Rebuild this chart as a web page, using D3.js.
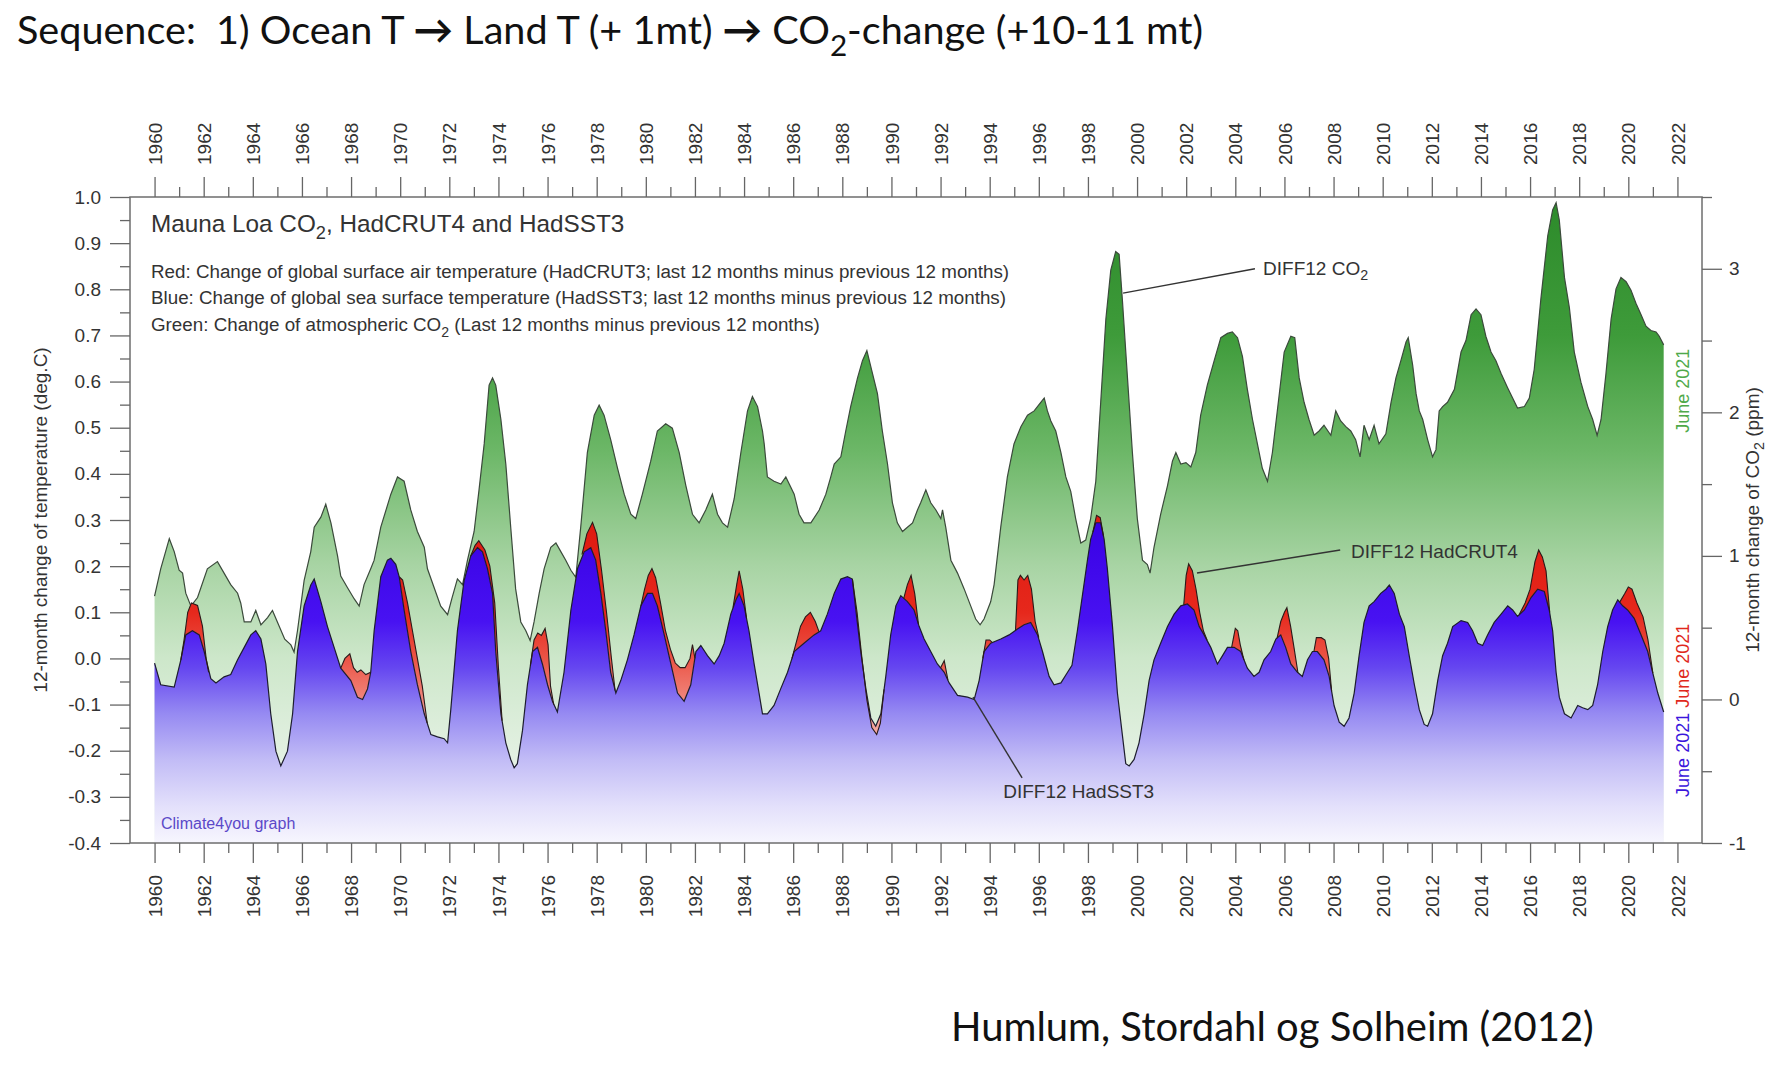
<!DOCTYPE html>
<html>
<head>
<meta charset="utf-8">
<script src="https://cdn.jsdelivr.net/npm/d3@7"></script>
<style>
  html, body { margin: 0; padding: 0; background: #fff; }
  svg { display: block; }
</style>
</head>
<body>
<div id="chart"></div>
<script>
// ---------- data ----------
const yearTicks = [1960, 1962, 1964, 1966, 1968, 1970, 1972, 1974, 1976, 1978, 1980, 1982, 1984, 1986, 1988, 1990,
  1992, 1994, 1996, 1998, 2000, 2002, 2004, 2006, 2008, 2010, 2012, 2014, 2016, 2018, 2020, 2022];
const yearMinorTicks = [1961, 1963, 1965, 1967, 1969, 1971, 1973, 1975, 1977, 1979, 1981, 1983, 1985, 1987, 1989, 1991,
  1993, 1995, 1997, 1999, 2001, 2003, 2005, 2007, 2009, 2011, 2013, 2015, 2017, 2019, 2021];
const tempTicks = [-0.4, -0.3, -0.2, -0.1, 0.0, 0.1, 0.2, 0.3, 0.4, 0.5, 0.6, 0.7, 0.8, 0.9, 1.0];
const tempMinorTicks = [-0.35, -0.25, -0.15, -0.05, 0.05, 0.15, 0.25, 0.35, 0.45, 0.55, 0.65, 0.75, 0.85, 0.95];
const co2Ticks = [-1, 0, 1, 2, 3];
const co2MinorTicks = [-0.5, 0.5, 1.5, 2.5, 3.5];

// DIFF12 CO2, Mauna Loa (ppm) : [year, value]
const co2Diff = [
  [1960.0,0.72],[1960.25,0.91],[1960.6,1.12],[1960.8,1.03],[1961.0,0.90],[1961.14,0.88],[1961.27,0.74],[1961.48,0.65],
  [1961.75,0.71],[1962.15,0.91],[1962.56,0.96],[1962.83,0.88],[1963.1,0.80],[1963.38,0.74],[1963.51,0.67],[1963.65,0.54],
  [1963.92,0.54],[1964.12,0.62],[1964.33,0.52],[1964.6,0.57],[1964.8,0.62],[1965.0,0.54],[1965.3,0.42],[1965.55,0.38],
  [1965.68,0.33],[1965.82,0.48],[1966.09,0.83],[1966.36,1.03],[1966.5,1.20],[1966.77,1.27],[1966.97,1.36],[1967.18,1.23],
  [1967.45,1.00],[1967.58,0.86],[1967.85,0.78],[1968.13,0.70],[1968.33,0.65],[1968.53,0.80],[1968.8,0.91],[1968.94,0.97],
  [1969.21,1.20],[1969.62,1.43],[1969.89,1.55],[1970.16,1.52],[1970.43,1.32],[1970.7,1.17],[1970.98,1.06],[1971.11,0.91],
  [1971.38,0.78],[1971.65,0.65],[1971.93,0.59],[1972.1,0.70],[1972.33,0.84],[1972.54,0.80],[1972.74,0.97],[1973.01,1.17],
  [1973.21,1.46],[1973.42,1.78],[1973.62,2.19],[1973.76,2.24],[1973.89,2.19],[1974.1,1.95],[1974.3,1.64],[1974.5,1.20],
  [1974.7,0.77],[1974.91,0.54],[1975.11,0.48],[1975.29,0.41],[1975.45,0.54],[1975.66,0.74],[1975.86,0.91],[1976.13,1.06],
  [1976.34,1.09],[1976.54,1.03],[1976.74,0.97],[1976.95,0.90],[1977.15,0.85],[1977.35,1.20],[1977.62,1.72],[1977.9,1.98],
  [1978.1,2.05],[1978.3,1.98],[1978.57,1.81],[1978.85,1.61],[1979.12,1.43],[1979.39,1.29],[1979.59,1.26],[1979.86,1.43],
  [1980.2,1.66],[1980.47,1.87],[1980.81,1.92],[1981.08,1.89],[1981.36,1.72],[1981.63,1.49],[1981.9,1.29],[1982.17,1.23],
  [1982.44,1.32],[1982.71,1.43],[1982.92,1.29],[1983.12,1.23],[1983.33,1.20],[1983.6,1.40],[1983.87,1.72],[1984.14,2.01],
  [1984.34,2.11],[1984.55,2.04],[1984.75,1.87],[1984.82,1.78],[1984.95,1.55],[1985.22,1.52],[1985.5,1.50],[1985.7,1.55],
  [1986.04,1.43],[1986.24,1.29],[1986.44,1.23],[1986.72,1.23],[1987.06,1.32],[1987.33,1.43],[1987.53,1.55],[1987.67,1.64],
  [1987.94,1.69],[1988.14,1.87],[1988.34,2.04],[1988.62,2.24],[1988.82,2.36],[1989.0,2.43],[1989.23,2.27],[1989.43,2.13],
  [1989.63,1.87],[1989.84,1.64],[1990.04,1.37],[1990.24,1.23],[1990.45,1.17],[1990.65,1.20],[1990.86,1.23],[1991.06,1.32],
  [1991.19,1.37],[1991.4,1.46],[1991.6,1.37],[1991.81,1.32],[1992.01,1.26],[1992.08,1.32],[1992.21,1.20],[1992.42,0.97],
  [1992.69,0.88],[1992.96,0.77],[1993.23,0.65],[1993.43,0.56],[1993.61,0.52],[1993.77,0.56],[1994.04,0.68],[1994.18,0.80],
  [1994.45,1.20],[1994.72,1.55],[1994.99,1.78],[1995.27,1.90],[1995.54,1.98],[1995.81,2.01],[1996.08,2.07],[1996.22,2.10],
  [1996.35,2.01],[1996.49,1.94],[1996.69,1.87],[1996.9,1.72],[1997.1,1.55],[1997.3,1.45],[1997.5,1.26],[1997.71,1.09],
  [1997.91,1.11],[1998.11,1.26],[1998.32,1.52],[1998.52,2.07],[1998.73,2.65],[1998.93,2.99],[1999.13,3.12],[1999.27,3.10],
  [1999.4,2.79],[1999.61,2.24],[1999.81,1.72],[2000.01,1.26],[2000.22,0.97],[2000.42,0.94],[2000.53,0.88],[2000.69,1.06],
  [2000.96,1.29],[2001.24,1.49],[2001.44,1.66],[2001.58,1.72],[2001.78,1.64],[2001.99,1.65],[2002.19,1.62],[2002.39,1.72],
  [2002.59,1.98],[2002.86,2.19],[2003.14,2.36],[2003.41,2.52],[2003.68,2.55],[2003.88,2.56],[2004.09,2.52],[2004.29,2.39],
  [2004.49,2.16],[2004.7,1.95],[2004.9,1.78],[2005.1,1.61],[2005.31,1.52],[2005.51,1.72],[2005.71,2.01],[2005.99,2.42],
  [2006.26,2.53],[2006.42,2.52],[2006.6,2.24],[2006.8,2.07],[2007.0,1.95],[2007.21,1.84],[2007.41,1.87],[2007.61,1.91],
  [2007.89,1.84],[2008.09,2.01],[2008.29,1.94],[2008.5,1.90],[2008.7,1.87],[2008.9,1.81],[2009.08,1.69],[2009.24,1.91],
  [2009.45,1.81],[2009.65,1.91],[2009.85,1.78],[2010.13,1.85],[2010.34,2.07],[2010.54,2.24],[2010.74,2.36],[2010.95,2.49],
  [2011.04,2.52],[2011.22,2.33],[2011.36,2.13],[2011.49,2.01],[2011.63,1.95],[2011.83,1.81],[2012.03,1.69],[2012.17,1.74],
  [2012.3,2.01],[2012.44,2.04],[2012.64,2.07],[2012.92,2.16],[2013.19,2.42],[2013.39,2.50],[2013.6,2.68],[2013.8,2.72],
  [2014.0,2.68],[2014.2,2.53],[2014.41,2.42],[2014.61,2.36],[2014.82,2.27],[2015.09,2.17],[2015.29,2.10],[2015.49,2.03],
  [2015.77,2.04],[2015.97,2.10],[2016.17,2.30],[2016.44,2.79],[2016.72,3.23],[2016.92,3.41],[2017.06,3.46],[2017.19,3.34],
  [2017.4,2.94],[2017.6,2.73],[2017.8,2.42],[2018.07,2.21],[2018.35,2.04],[2018.55,1.95],[2018.73,1.84],[2018.89,1.95],
  [2019.09,2.27],[2019.3,2.65],[2019.5,2.86],[2019.7,2.94],[2019.91,2.91],[2020.11,2.85],[2020.31,2.76],[2020.52,2.68],
  [2020.72,2.60],[2020.92,2.57],[2021.13,2.56],[2021.26,2.53],[2021.44,2.47]
];

// DIFF12 HadSST3 (deg C) : [year, value]
const sstDiff = [
  [1960.0,-0.01],[1960.25,-0.057],[1960.8,-0.062],[1961.07,-0.003],[1961.27,0.051],[1961.54,0.06],[1961.82,0.051],
  [1962.02,0.015],[1962.29,-0.044],[1962.5,-0.053],[1962.83,-0.04],[1963.1,-0.035],[1963.38,-0.003],[1963.65,0.024],
  [1963.92,0.051],[1964.12,0.06],[1964.33,0.042],[1964.53,-0.012],[1964.73,-0.12],[1964.94,-0.201],[1965.14,-0.233],
  [1965.41,-0.201],[1965.62,-0.12],[1965.82,0.015],[1966.09,0.114],[1966.36,0.159],[1966.5,0.172],[1966.77,0.123],
  [1967.04,0.069],[1967.31,0.024],[1967.58,-0.021],[1967.99,-0.048],[1968.26,-0.084],[1968.47,-0.089],[1968.67,-0.066],
  [1968.8,-0.03],[1968.94,0.06],[1969.21,0.177],[1969.48,0.213],[1969.62,0.217],[1969.82,0.204],[1969.96,0.177],
  [1970.16,0.105],[1970.43,0.015],[1970.7,-0.057],[1970.98,-0.12],[1971.25,-0.165],[1971.52,-0.17],[1971.79,-0.174],
  [1971.93,-0.183],[1972.06,-0.111],[1972.33,0.06],[1972.6,0.168],[1972.87,0.222],[1973.15,0.24],[1973.35,0.231],
  [1973.55,0.195],[1973.76,0.141],[1973.89,0.015],[1974.1,-0.12],[1974.3,-0.183],[1974.5,-0.219],[1974.64,-0.237],
  [1974.77,-0.228],[1974.98,-0.156],[1975.18,-0.057],[1975.39,0.015],[1975.59,0.024],[1975.79,-0.012],[1976.0,-0.057],
  [1976.2,-0.093],[1976.4,-0.116],[1976.67,-0.03],[1976.95,0.105],[1977.22,0.195],[1977.49,0.231],[1977.76,0.24],
  [1977.96,0.213],[1978.17,0.141],[1978.37,0.06],[1978.57,-0.03],[1978.78,-0.075],[1978.98,-0.048],[1979.25,-0.003],
  [1979.52,0.051],[1979.8,0.114],[1980.07,0.141],[1980.27,0.141],[1980.47,0.114],[1980.75,0.051],[1981.02,-0.012],
  [1981.29,-0.075],[1981.56,-0.093],[1981.83,-0.057],[1982.04,0.015],[1982.24,0.028],[1982.51,0.006],[1982.78,-0.012],
  [1982.99,0.006],[1983.19,0.033],[1983.46,0.096],[1983.67,0.127],[1983.8,0.141],[1984.0,0.114],[1984.2,0.06],
  [1984.41,-0.012],[1984.61,-0.075],[1984.75,-0.12],[1984.95,-0.12],[1985.22,-0.102],[1985.49,-0.066],[1985.77,-0.03],
  [1986.04,0.015],[1986.44,0.033],[1986.85,0.051],[1987.12,0.06],[1987.39,0.096],[1987.67,0.141],[1987.94,0.172],
  [1988.21,0.177],[1988.41,0.172],[1988.55,0.105],[1988.75,0.015],[1988.96,-0.066],[1989.16,-0.129],[1989.36,-0.147],
  [1989.57,-0.12],[1989.77,-0.039],[1989.97,0.051],[1990.18,0.114],[1990.38,0.136],[1990.65,0.123],[1990.92,0.105],
  [1991.13,0.069],[1991.33,0.042],[1991.6,0.015],[1991.87,-0.012],[1992.15,-0.03],[1992.35,-0.053],[1992.69,-0.08],
  [1993.1,-0.084],[1993.37,-0.089],[1993.57,-0.048],[1993.77,0.015],[1994.04,0.033],[1994.45,0.042],[1994.79,0.051],
  [1995.13,0.064],[1995.4,0.073],[1995.67,0.078],[1995.95,0.051],[1996.15,0.015],[1996.42,-0.039],[1996.62,-0.057],
  [1996.9,-0.053],[1997.17,-0.03],[1997.35,-0.015],[1997.57,0.06],[1997.98,0.213],[1998.11,0.258],[1998.32,0.294],
  [1998.52,0.294],[1998.66,0.258],[1998.79,0.195],[1999.0,0.069],[1999.2,-0.075],[1999.4,-0.165],[1999.54,-0.228],
  [1999.68,-0.233],[1999.88,-0.219],[2000.08,-0.183],[2000.29,-0.12],[2000.49,-0.048],[2000.69,-0.003],[2000.96,0.033],
  [2001.24,0.069],[2001.51,0.096],[2001.78,0.114],[2002.05,0.118],[2002.32,0.105],[2002.53,0.069],[2002.73,0.051],
  [2003.0,0.024],[2003.27,-0.012],[2003.48,0.006],[2003.68,0.024],[2003.95,0.024],[2004.22,0.015],[2004.49,-0.021],
  [2004.76,-0.039],[2004.97,-0.03],[2005.17,-0.003],[2005.44,0.015],[2005.65,0.042],[2005.85,0.051],[2006.05,0.024],
  [2006.26,-0.012],[2006.53,-0.03],[2006.73,-0.039],[2006.94,-0.003],[2007.14,0.015],[2007.34,0.015],[2007.61,-0.003],
  [2007.82,-0.039],[2008.02,-0.102],[2008.23,-0.138],[2008.43,-0.147],[2008.63,-0.129],[2008.84,-0.075],[2009.04,0.006],
  [2009.24,0.078],[2009.45,0.114],[2009.65,0.123],[2009.92,0.141],[2010.13,0.15],[2010.27,0.159],[2010.47,0.141],
  [2010.68,0.096],[2010.88,0.069],[2011.08,0.006],[2011.29,-0.057],[2011.49,-0.111],[2011.69,-0.143],[2011.83,-0.147],
  [2012.03,-0.12],[2012.24,-0.048],[2012.44,0.006],[2012.64,0.033],[2012.85,0.069],[2013.19,0.082],[2013.46,0.078],
  [2013.66,0.06],[2013.87,0.033],[2014.07,0.028],[2014.27,0.051],[2014.54,0.078],[2014.82,0.096],[2015.09,0.114],
  [2015.29,0.105],[2015.49,0.091],[2015.77,0.105],[2016.04,0.132],[2016.31,0.15],[2016.58,0.145],[2016.78,0.105],
  [2016.92,0.06],[2017.06,-0.03],[2017.19,-0.084],[2017.4,-0.12],[2017.67,-0.129],[2017.94,-0.102],[2018.14,-0.107],
  [2018.35,-0.111],[2018.55,-0.102],[2018.75,-0.057],[2018.96,0.015],[2019.16,0.069],[2019.36,0.105],[2019.57,0.127],
  [2019.77,0.114],[2019.97,0.105],[2020.24,0.087],[2020.52,0.051],[2020.79,0.015],[2020.99,-0.03],[2021.2,-0.075],
  [2021.44,-0.116]
];

// DIFF12 HadCRUT4 (deg C), only the stretches where it leaves the HadSST3 curve
const crutEpisodes = [
  [[1961.07,-0.003],[1961.2,0.04],[1961.35,0.1],[1961.5,0.12],[1961.75,0.115],[1961.95,0.07],[1962.1,0.0],[1962.2,-0.03]],
  [[1967.58,-0.021],[1967.75,0.0],[1967.95,0.01],[1968.1,-0.02],[1968.25,-0.03],[1968.4,-0.025],[1968.6,-0.035],[1968.8,-0.03]],
  [[1969.96,0.177],[1970.1,0.17],[1970.3,0.12],[1970.5,0.06],[1970.7,0.0],[1970.9,-0.06],[1971.1,-0.14]],
  [[1972.87,0.222],[1973.05,0.245],[1973.2,0.255],[1973.45,0.235],[1973.65,0.2],[1973.85,0.12],[1974.0,-0.02],[1974.15,-0.135]],
  [[1975.3,-0.015],[1975.45,0.04],[1975.6,0.055],[1975.75,0.05],[1975.9,0.065],[1976.02,0.03],[1976.12,-0.06],[1976.25,-0.1]],
  [[1977.4,0.225],[1977.6,0.27],[1977.83,0.295],[1978.0,0.27],[1978.2,0.19],[1978.4,0.1],[1978.6,0.0],[1978.75,-0.07]],
  [[1979.8,0.114],[1979.95,0.15],[1980.1,0.18],[1980.25,0.195],[1980.4,0.175],[1980.6,0.12],[1980.8,0.06],[1981.0,0.02],
   [1981.2,-0.01],[1981.4,-0.02],[1981.6,-0.02],[1981.8,0.0],[1981.9,0.03],[1982.0,0.0]],
  [[1983.55,0.11],[1983.7,0.16],[1983.8,0.19],[1983.95,0.15],[1984.1,0.087]],
  [[1985.95,0.0],[1986.1,0.03],[1986.3,0.07],[1986.5,0.09],[1986.7,0.1],[1986.9,0.08],[1987.05,0.058]],
  [[1988.41,0.172],[1988.6,0.1],[1988.8,0.0],[1989.0,-0.09],[1989.2,-0.15],[1989.4,-0.165],[1989.55,-0.14],[1989.7,-0.067]],
  [[1990.5,0.13],[1990.65,0.16],[1990.8,0.18],[1990.95,0.14],[1991.1,0.074]],
  [[1992.0,-0.02],[1992.15,-0.005],[1992.3,-0.047]],
  [[1993.72,0.0],[1993.85,0.04],[1994.0,0.04],[1994.1,0.035]],
  [[1995.05,0.06],[1995.15,0.17],[1995.25,0.18],[1995.4,0.17],[1995.55,0.18],[1995.7,0.15],[1995.85,0.08],[1996.0,0.045]],
  [[1998.2,0.274],[1998.35,0.31],[1998.5,0.305],[1998.63,0.266]],
  [[2001.9,0.116],[2002.0,0.18],[2002.1,0.205],[2002.25,0.19],[2002.4,0.15],[2002.55,0.1],[2002.7,0.06],[2002.85,0.04]],
  [[2003.85,0.024],[2004.0,0.065],[2004.1,0.06],[2004.2,0.03],[2004.35,-0.003]],
  [[2005.7,0.044],[2005.85,0.08],[2006.0,0.1],[2006.1,0.11],[2006.25,0.07],[2006.4,0.02],[2006.55,-0.031]],
  [[2007.2,0.015],[2007.3,0.045],[2007.5,0.045],[2007.65,0.04],[2007.8,0.0],[2007.92,-0.07]],
  [[2015.55,0.094],[2015.8,0.12],[2016.0,0.15],[2016.2,0.21],[2016.35,0.235],[2016.5,0.22],[2016.65,0.19],[2016.8,0.1]],
  [[2019.65,0.122],[2019.85,0.14],[2020.0,0.155],[2020.15,0.15],[2020.35,0.12],[2020.6,0.09],[2020.8,0.04],[2021.0,-0.032]]
];

// ---------- layout ----------
const width = 1786, height = 1080;
const plot = { left: 130, right: 1702, top: 197, bottom: 843 };
const font = "'Liberation Sans', Arial, sans-serif";

const svg = d3.select("#chart").append("svg")
    .attr("width", width)
    .attr("height", height);

svg.append("rect").attr("width", width).attr("height", height).attr("fill", "#fff");

const x = d3.scaleLinear().domain([1959, 2023]).range([plot.left, plot.right]);
const yT = d3.scaleLinear().domain([-0.4, 1.0]).range([plot.bottom, plot.top]);
const yC = d3.scaleLinear().domain([-1, 3.5]).range([plot.bottom, plot.top]);

// vertical gradients fixed to the temperature axis
const defs = svg.append("defs");
function vGradient(id, stops) {
    const g = defs.append("linearGradient")
        .attr("id", id)
        .attr("gradientUnits", "userSpaceOnUse")
        .attr("x1", 0).attr("x2", 0)
        .attr("y1", plot.top).attr("y2", plot.bottom);
    stops.forEach(([t, c]) => {
        g.append("stop")
            .attr("offset", (yT(t) - plot.top) / (plot.bottom - plot.top))
            .attr("stop-color", c);
    });
}
vGradient("gGreen", [[1.0, "#2c8a2a"], [0.7, "#3e9b3a"], [0.45, "#6cb767"], [0.2, "#a8d4a4"],
    [0.0, "#cde7ca"], [-0.2, "#e2f0e1"], [-0.4, "#f3f9f3"]]);
vGradient("gBlue", [[0.3, "#3800e4"], [0.08, "#4812f2"], [-0.02, "#6546f0"], [-0.12, "#968af2"],
    [-0.22, "#c2bcf6"], [-0.32, "#e3e0fb"], [-0.4, "#f7f6fe"]]);
vGradient("gRed", [[0.3, "#de1a10"], [0.1, "#e6281c"], [0.0, "#eb5446"], [-0.1, "#f08c82"],
    [-0.2, "#f5bcb6"], [-0.4, "#fbe8e6"]]);

// ---------- marks ----------
const co2Area = d3.area().x(d => x(d[0])).y0(plot.bottom).y1(d => yC(d[1]));
const co2Line = d3.line().x(d => x(d[0])).y(d => yC(d[1]));
const tArea = d3.area().x(d => x(d[0])).y0(plot.bottom).y1(d => yT(d[1]));
const tLine = d3.line().x(d => x(d[0])).y(d => yT(d[1]));

svg.append("path").datum(co2Diff).attr("d", co2Area).attr("fill", "url(#gGreen)");
svg.append("path").datum(co2Diff).attr("d", co2Line)
    .attr("fill", "none").attr("stroke", "#3b4a3b").attr("stroke-width", 1.2);

svg.append("path").datum(sstDiff).attr("d", tArea).attr("fill", "url(#gBlue)");

// red band = HadCRUT4 forward, HadSST3 back
crutEpisodes.forEach(ep => {
    const t0 = ep[0][0], t1 = ep[ep.length - 1][0];
    const back = sstDiff.filter(d => d[0] > t0 && d[0] < t1).reverse();
    svg.append("path").datum(ep.concat(back))
        .attr("d", d => tLine(d) + "Z")
        .attr("fill", "url(#gRed)")
        .attr("fill-rule", "evenodd");
});

svg.append("path").datum(sstDiff).attr("d", tLine)
    .attr("fill", "none").attr("stroke", "#1d1d2e").attr("stroke-width", 1.2);

crutEpisodes.forEach(ep => {
    svg.append("path").datum(ep).attr("d", tLine)
        .attr("fill", "none").attr("stroke", "#2a1a1a").attr("stroke-width", 1.1);
});

// ---------- frame and axes ----------
svg.append("rect")
    .attr("x", plot.left).attr("y", plot.top)
    .attr("width", plot.right - plot.left).attr("height", plot.bottom - plot.top)
    .attr("fill", "none").attr("stroke", "#6e6e6e").attr("stroke-width", 1.5);

function styleAxis(g) {
    g.select(".domain").remove();
    g.attr("color", "#666").attr("font-family", font).attr("font-size", 19);
    g.selectAll("line").attr("stroke-width", 1.3);
    g.selectAll("text").attr("fill", "#333");
}

const topAxis = svg.append("g")
    .attr("transform", `translate(0,${plot.top})`)
    .call(d3.axisTop(x).tickValues(yearTicks).tickSize(20).tickFormat(d => d))
    .call(styleAxis);
topAxis.selectAll("text")
    .attr("transform", "rotate(-90)")
    .attr("x", 32).attr("y", 0).attr("dy", "0.35em")
    .style("text-anchor", "start");
svg.append("g").attr("transform", `translate(0,${plot.top})`)
    .call(d3.axisTop(x).tickValues(yearMinorTicks).tickSize(10).tickFormat(""))
    .call(styleAxis);

const bottomAxis = svg.append("g")
    .attr("transform", `translate(0,${plot.bottom})`)
    .call(d3.axisBottom(x).tickValues(yearTicks).tickSize(20).tickFormat(d => d))
    .call(styleAxis);
bottomAxis.selectAll("text")
    .attr("transform", "rotate(-90)")
    .attr("x", -32).attr("y", 0).attr("dy", "0.35em")
    .style("text-anchor", "end");
svg.append("g").attr("transform", `translate(0,${plot.bottom})`)
    .call(d3.axisBottom(x).tickValues(yearMinorTicks).tickSize(10).tickFormat(""))
    .call(styleAxis);

svg.append("g")
    .attr("transform", `translate(${plot.left},0)`)
    .call(d3.axisLeft(yT).tickValues(tempTicks).tickSize(20).tickPadding(9).tickFormat(d => d.toFixed(1)))
    .call(styleAxis);
svg.append("g")
    .attr("transform", `translate(${plot.left},0)`)
    .call(d3.axisLeft(yT).tickValues(tempMinorTicks).tickSize(10).tickFormat(""))
    .call(styleAxis);

svg.append("g")
    .attr("transform", `translate(${plot.right},0)`)
    .call(d3.axisRight(yC).tickValues(co2Ticks).tickSize(20).tickPadding(7).tickFormat(d => String(d)))
    .call(styleAxis);
svg.append("g")
    .attr("transform", `translate(${plot.right},0)`)
    .call(d3.axisRight(yC).tickValues(co2MinorTicks).tickSize(10).tickFormat(""))
    .call(styleAxis);

// ---------- text ----------
// parts: [string, isSubscript, isBold]
function rich(sel, parts, size) {
    let down = false;
    parts.forEach(([s, sub, bold]) => {
        const t = sel.append("tspan").text(s);
        if (bold) t.attr("font-weight", "bold");
        if (sub) {
            t.style("font-size", (size * 0.75) + "px").attr("dy", size * 0.3);
            down = true;
        } else if (down) {
            t.attr("dy", -size * 0.3);
            down = false;
        }
    });
    return sel;
}

rich(svg.append("text")
    .attr("x", 17).attr("y", 44)
    .attr("font-family", "Lato, 'Open Sans', sans-serif").attr("font-size", 39.6)
    .attr("fill", "#111").style("white-space", "pre"),
    [["Sequence:  1) Ocean T ", false], ["\u2192", false, true], [" Land T (+ 1mt) ", false],
     ["\u2192", false, true], [" CO", false], ["2", true], ["-change (+10-11 mt)", false]], 39.6);

svg.append("text")
    .attr("x", 951).attr("y", 1041)
    .attr("font-family", "Lato, 'Open Sans', sans-serif").attr("font-size", 40)
    .attr("fill", "#111")
    .text("Humlum, Stordahl og Solheim (2012)");

rich(svg.append("text")
    .attr("x", 151).attr("y", 232)
    .attr("font-family", font).attr("font-size", 24.3).attr("fill", "#333"),
    [["Mauna Loa CO", false], ["2", true], [", HadCRUT4 and HadSST3", false]], 24.3);

const descY = [278, 304, 331];
const descSize = 18.8;
svg.append("text").attr("x", 151).attr("y", descY[0])
    .attr("font-family", font).attr("font-size", descSize).attr("fill", "#333")
    .text("Red: Change of global surface air temperature (HadCRUT3; last 12 months minus previous 12 months)");
svg.append("text").attr("x", 151).attr("y", descY[1])
    .attr("font-family", font).attr("font-size", descSize).attr("fill", "#333")
    .text("Blue: Change of global sea surface temperature (HadSST3; last 12 months minus previous 12 months)");
rich(svg.append("text").attr("x", 151).attr("y", descY[2])
    .attr("font-family", font).attr("font-size", descSize).attr("fill", "#333"),
    [["Green: Change of atmospheric CO", false], ["2", true], [" (Last 12 months minus previous 12 months)", false]], descSize);

svg.append("text").attr("x", 161).attr("y", 829)
    .attr("font-family", font).attr("font-size", 16).attr("fill", "#5b48c8")
    .text("Climate4you graph");

// axis titles
svg.append("text")
    .attr("transform", `translate(40,${(plot.top + plot.bottom) / 2}) rotate(-90)`)
    .attr("text-anchor", "middle").attr("dy", "0.35em")
    .attr("font-family", font).attr("font-size", 19).attr("fill", "#333")
    .text("12-month change of temperature (deg.C)");
rich(svg.append("text")
    .attr("transform", `translate(1752,${(plot.top + plot.bottom) / 2}) rotate(-90)`)
    .attr("text-anchor", "middle").attr("dy", "0.35em")
    .attr("font-family", font).attr("font-size", 19).attr("fill", "#333"),
    [["12-month change of CO", false], ["2", true], [" (ppm)", false]], 19);

// end-of-series labels
const endLabels = [
    { text: "June 2021", color: "#4fa94a", y: yC(2.15) },
    { text: "June 2021", color: "#e0281c", y: yT(-0.016) },
    { text: "June 2021", color: "#3a16dc", y: yT(-0.209) }
];
endLabels.forEach(l => {
    svg.append("text")
        .attr("transform", `translate(${x(2022.2)},${l.y}) rotate(-90)`)
        .attr("text-anchor", "middle").attr("dy", "0.35em")
        .attr("font-family", font).attr("font-size", 18).attr("fill", l.color)
        .text(l.text);
});

// leader annotations
const leaders = [
    { from: [x(1999.43), yC(2.83)], to: [x(2004.8), yC(3.0)], at: [x(2005.13), yC(2.96)], parts: [["DIFF12 CO", false], ["2", true]] },
    { from: [x(2002.44), yT(0.185)], to: [x(2008.27), yT(0.235)], at: [x(2008.71), yT(0.218)], parts: [["DIFF12 HadCRUT4", false]] },
    { from: [x(1993.32), yT(-0.084)], to: [x(1995.32), yT(-0.259)], at: [x(1994.55), yT(-0.302)], parts: [["DIFF12 HadSST3", false]] }
];
leaders.forEach(a => {
    svg.append("line")
        .attr("x1", a.from[0]).attr("y1", a.from[1])
        .attr("x2", a.to[0]).attr("y2", a.to[1])
        .attr("stroke", "#333").attr("stroke-width", 1.4);
    rich(svg.append("text")
        .attr("x", a.at[0]).attr("y", a.at[1])
        .attr("font-family", font).attr("font-size", 19).attr("fill", "#333"),
        a.parts, 19);
});
</script>
</body>
</html>
